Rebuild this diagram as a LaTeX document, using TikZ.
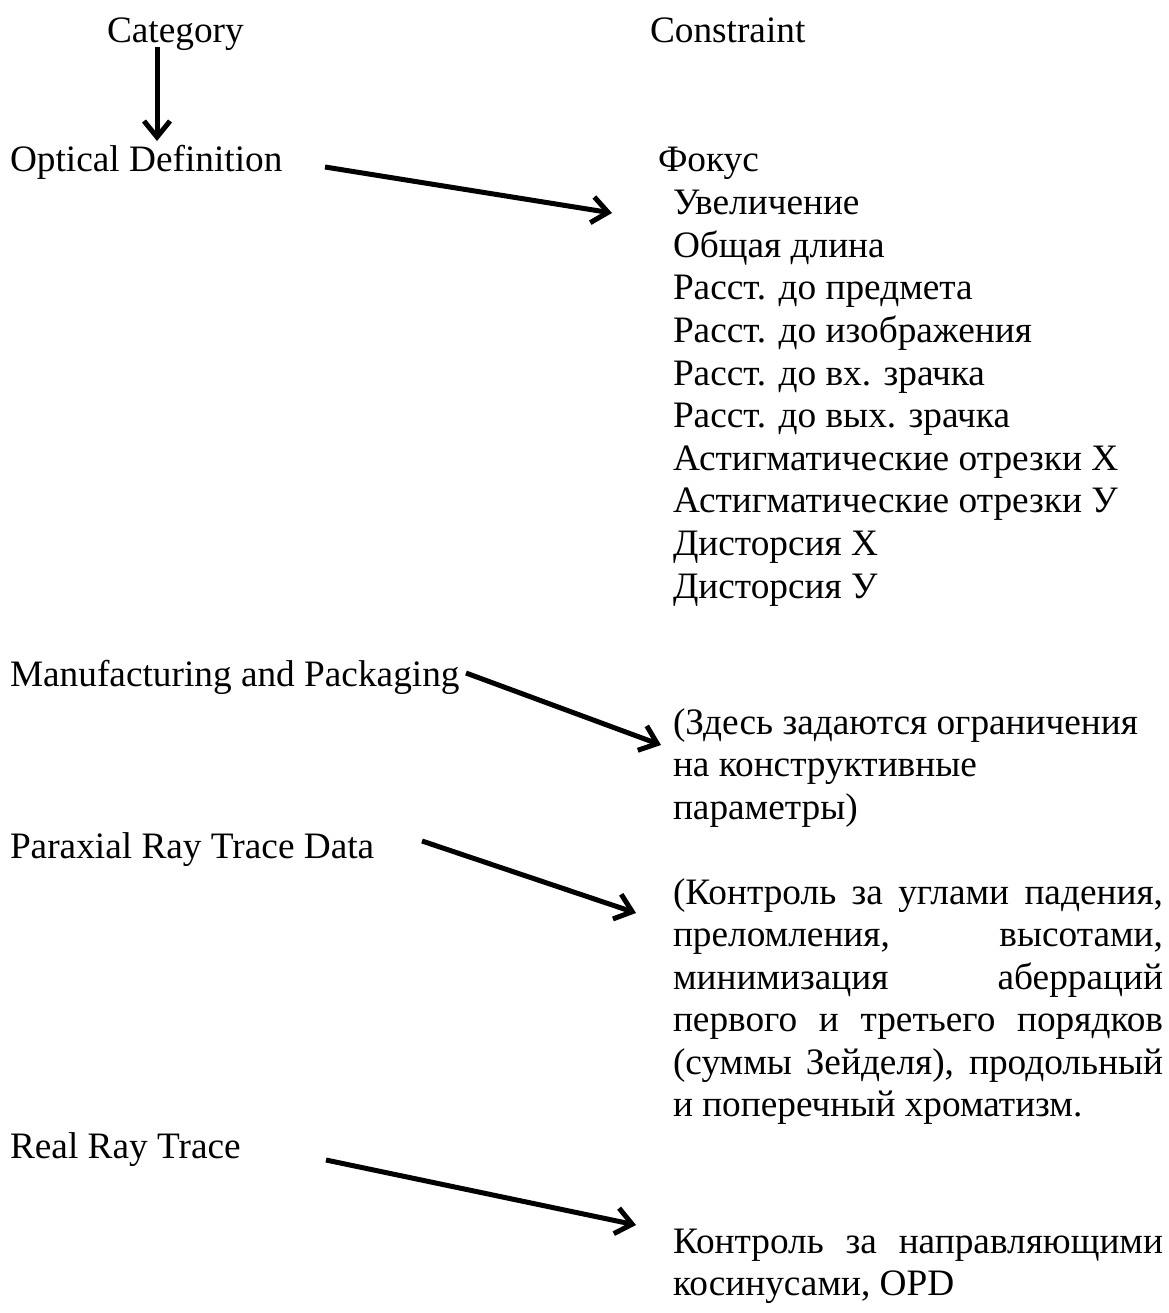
\documentclass[tikz,border=0pt]{standalone}
\usepackage{fontspec}
\setmainfont{Liberation Serif}
\usetikzlibrary{arrows.meta}
\begin{document}
\begin{tikzpicture}[x=1pt,y=-1pt,
  lbl/.style={anchor=base west,inner sep=0pt,outer sep=0pt,font=\fontsize{37.3}{42.6}\selectfont},
  arr/.style={line width=5pt,-{Straight Barb[length=16pt,width=26pt]}}]
\useasboundingbox (0,0) rectangle (1168,1313);
% headers
\node[lbl] (cat) at (107,43) {Category};
\node[lbl] (con) at (650,43) {Constraint};
% left column
\node[lbl] (opt) at (10,172) {Optical Definition};
\node[lbl] (man) at (10,686) {Manufacturing and Packaging};
\node[lbl] (par) at (10,858) {Paraxial Ray Trace Data};
\node[lbl] (rea) at (10,1158) {Real Ray Trace};
% right list
\node[lbl] (c0) at (658,172) {Фокус};
\node[lbl] (c1) at (673,214.6) {Увеличение};
\node[lbl] (c2) at (673,257.2) {Общая длина};
\node[lbl] (c3) at (673,299.8) {Расст. до предмета};
\node[lbl] (c4) at (673,342.4) {Расст. до изображения};
\node[lbl] (c5) at (673,385) {Расст. до вх. зрачка};
\node[lbl] (c6) at (673,427.6) {Расст. до вых. зрачка};
\node[lbl] (c7) at (673,470.2) {Астигматические отрезки Х};
\node[lbl] (c8) at (673,512.8) {Астигматические отрезки У};
\node[lbl] (c9) at (673,555.4) {Дисторсия Х};
\node[lbl] (c10) at (673,598) {Дисторсия У};
% manufacturing paragraph
\node[lbl] (z1) at (673,734) {(Здесь задаются ограничения};
\node[lbl] (z2) at (673,776.5) {на конструктивные};
\node[lbl] (z3) at (673,819) {параметры)};
% paraxial paragraph
\node[lbl] (k1) at (673,904) {\makebox[490pt][s]{(Контроль за углами падения,}};
\node[lbl] (k2) at (673,946.5) {\makebox[490pt][s]{преломления, высотами,}};
\node[lbl] (k3) at (673,989) {\makebox[490pt][s]{минимизация аберраций}};
\node[lbl] (k4) at (673,1031.5) {\makebox[490pt][s]{первого и третьего порядков}};
\node[lbl] (k5) at (673,1074) {\makebox[490pt][s]{(суммы Зейделя), продольный}};
\node[lbl] (k6) at (673,1116.5) {и поперечный хроматизм.};
% real ray paragraph
\node[lbl] (r1) at (673,1253) {\makebox[490pt][s]{Контроль за направляющими}};
\node[lbl] (r2) at (673,1295) {косинусами, OPD};
% arrow end points
\coordinate (a0s) at (157,47);
\coordinate (a0e) at (157,141);
\coordinate (a1s) at (325,167);
\coordinate (a1e) at (612,213);
\coordinate (a2s) at (466,673);
\coordinate (a2e) at (661,745);
\coordinate (a3s) at (422,841);
\coordinate (a3e) at (636,913);
\coordinate (a4s) at (326,1160);
\coordinate (a4e) at (636,1225);
\draw[arr] (a0s) -- (a0e);
\draw[arr] (a1s) -- (a1e);
\draw[arr] (a2s) -- (a2e);
\draw[arr] (a3s) -- (a3e);
\draw[arr] (a4s) -- (a4e);
\end{tikzpicture}
\end{document}
